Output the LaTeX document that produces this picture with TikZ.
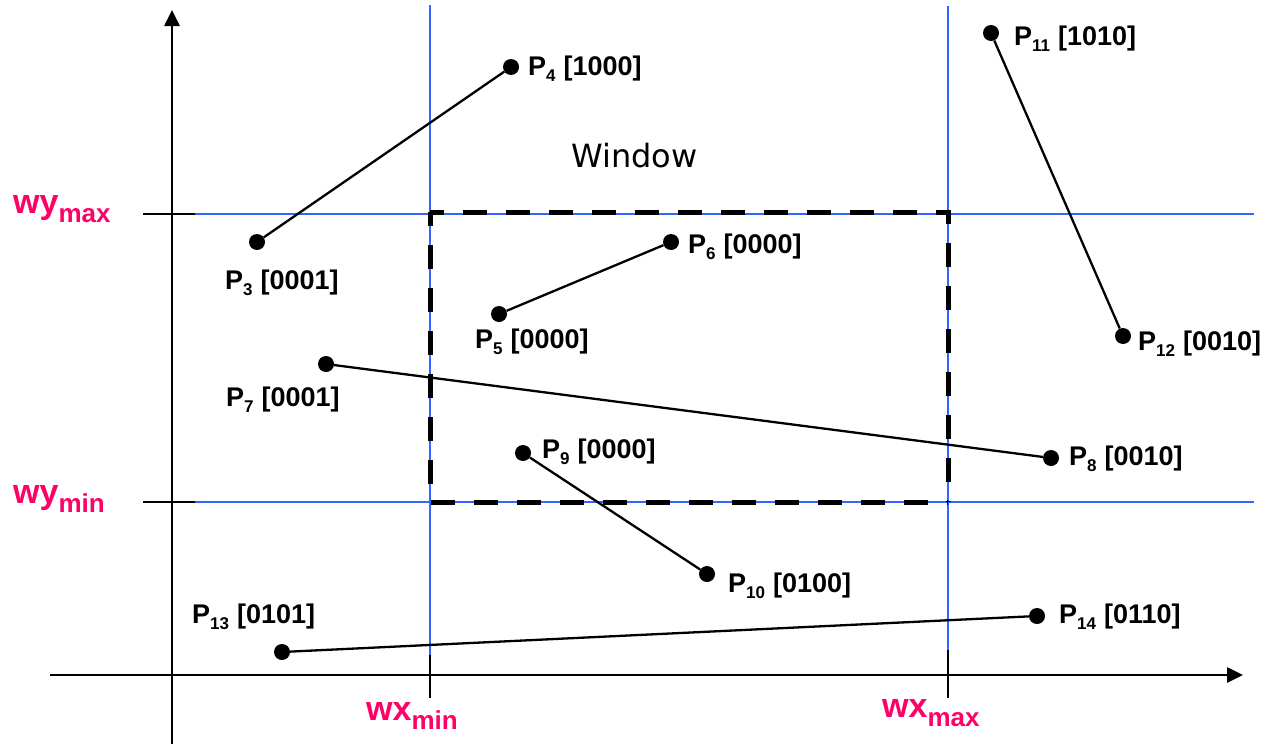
\documentclass[tikz,border=0pt]{standalone}
\usepackage{fontspec}
\setmainfont{Liberation Sans}
\newfontfamily\winfont{DejaVu Sans}
\usetikzlibrary{arrows.meta}
\definecolor{wpink}{RGB}{255,0,102}
\definecolor{wblue}{RGB}{51,102,255}
\newcommand{\plab}[2]{\fontsize{27}{32}\selectfont\bfseries P\raisebox{-6.5pt}{\fontsize{17}{17}\selectfont #1}\hspace{8pt}[#2]}
\newcommand{\wlab}[2]{\fontsize{34}{40}\selectfont\bfseries #1\raisebox{-9pt}{\fontsize{26}{30}\selectfont #2}}
\begin{document}
\begin{tikzpicture}[x=1pt,y=-1pt,
  dot/.style={circle,fill=black,inner sep=0pt,minimum size=16pt},
  seg/.style={line width=2.3pt,black},
  bline/.style={line width=1.5pt,wblue},
  tickline/.style={line width=1.5pt,black},
  axisline/.style={line width=2.6pt,black,-{Triangle[length=16pt,width=15pt]}},
  winbox/.style={line width=5pt,black,dash pattern=on 24pt off 19pt,dash phase=10pt},
  lab/.style={anchor=base west,inner sep=0pt,text=black},
  wl/.style={anchor=base west,inner sep=0pt,text=wpink}]
\useasboundingbox (0,0) rectangle (1266,744);
% window boundary lines
\coordinate (hxa) at (185,214); \coordinate (hxb) at (1254,214);
\coordinate (hna) at (194,502); \coordinate (hnb) at (1254,502);
\coordinate (vxa) at (430,5); \coordinate (vxb) at (430,655);
\coordinate (vma) at (948,6); \coordinate (vmb) at (948,650);
\draw[bline] (hxa) -- (hxb);
\draw[bline] (hna) -- (hnb);
\draw[bline] (vxa) -- (vxb);
\draw[bline] (vma) -- (vmb);
% window rectangle
\coordinate (wtl) at (430,212); \coordinate (wtr) at (948,212);
\coordinate (wbr) at (948,502); \coordinate (wbl) at (430,502);
\draw[winbox] (wtl) -- (wtr) -- (wbr);
\draw[winbox] (wtl) -- (wbl) -- (wbr);
% axes
\coordinate (ya) at (172,744); \coordinate (yb) at (172,10);
\coordinate (xa) at (50,675); \coordinate (xb) at (1243,675);
\draw[axisline] (ya) -- (yb);
\draw[axisline] (xa) -- (xb);
% ticks
\coordinate (t1a) at (143,214); \coordinate (t1b) at (195,214);
\coordinate (t2a) at (143,502); \coordinate (t2b) at (195,502);
\coordinate (t3a) at (430,655); \coordinate (t3b) at (430,698);
\coordinate (t4a) at (948,650); \coordinate (t4b) at (948,698);
\draw[tickline] (t1a) -- (t1b);
\draw[tickline] (t2a) -- (t2b);
\draw[tickline] (t3a) -- (t3b);
\draw[tickline] (t4a) -- (t4b);
% boundary labels
\node[wl] (wymax) at (13,213) {\wlab{wy}{max}};
\node[wl] (wymin) at (13,503) {\wlab{wy}{min}};
\node[wl] (wxmin) at (366,720) {\wlab{wx}{min}};
\node[wl] (wxmax) at (882,717) {\wlab{wx}{max}};
\node[anchor=base west,inner sep=0pt] (win) at (571,167) {\winfont\fontsize{32}{38}\selectfont Window};
% points
\node[dot] (p3) at (257,242) {};
\node[dot] (p4) at (511,67) {};
\node[dot] (p5) at (499,314) {};
\node[dot] (p6) at (671,242) {};
\node[dot] (p7) at (326,364) {};
\node[dot] (p8) at (1051,458) {};
\node[dot] (p9) at (523,453) {};
\node[dot] (p10) at (707,574) {};
\node[dot] (p11) at (991,33) {};
\node[dot] (p12) at (1123,336) {};
\node[dot] (p13) at (282,652) {};
\node[dot] (p14) at (1037,616) {};
% segments
\draw[seg] (p4) -- (p3);
\draw[seg] (p6) -- (p5);
\draw[seg] (p7) -- (p8);
\draw[seg] (p9) -- (p10);
\draw[seg] (p11) -- (p12);
\draw[seg] (p13) -- (p14);
% point labels
\node[lab] (l3) at (225,289) {\plab{3}{0001}};
\node[lab] (l4) at (528,75) {\plab{4}{1000}};
\node[lab] (l5) at (475,348) {\plab{5}{0000}};
\node[lab] (l6) at (688,253) {\plab{6}{0000}};
\node[lab] (l7) at (226,406) {\plab{7}{0001}};
\node[lab] (l8) at (1069,465) {\plab{8}{0010}};
\node[lab] (l9) at (542,458) {\plab{9}{0000}};
\node[lab] (l10) at (728,592) {\plab{10}{0100}};
\node[lab] (l11) at (1014,45) {\plab{11}{1010}};
\node[lab] (l12) at (1138,350) {\plab{12}{0010}};
\node[lab] (l13) at (192,623) {\plab{13}{0101}};
\node[lab] (l14) at (1059,623) {\plab{14}{0110}};
\end{tikzpicture}
\end{document}
